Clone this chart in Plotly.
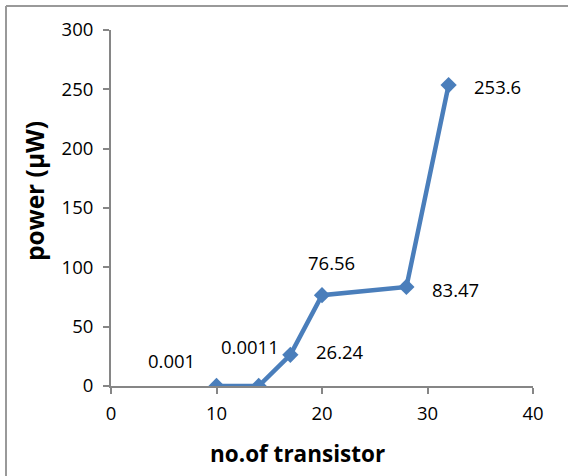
import plotly.graph_objects as go

# Power consumption versus transistor count
transistors = [10, 14, 17, 20, 28, 32]
power_uw = [0.001, 0.0011, 26.24, 76.56, 83.47, 253.6]
value_labels = ["0.001", "0.0011", "26.24", "76.56", "83.47", "253.6"]
# pixel offsets of each value label from its point
label_dx = [-45, -9, 50, 9, 49, 49]
label_dy = [-26, -40, -3, -33, 3, 1]

x_ticks = [0, 10, 20, 30, 40]
y_ticks = [0, 50, 100, 150, 200, 250, 300]

BLUE = "#4A7EBB"
AXIS = "#868686"
FONT = "Open Sans"

fig = go.Figure()
fig.add_trace(go.Scatter(
    x=transistors, y=power_uw, mode="lines+markers",
    line=dict(color=BLUE, width=4.5),
    marker=dict(symbol="diamond", size=12.5, color=BLUE),
    showlegend=False, hoverinfo="skip",
))

for x, y, t, dx, dy in zip(transistors, power_uw, value_labels, label_dx, label_dy):
    fig.add_annotation(x=x, y=y, text=t, showarrow=True, arrowcolor="rgba(0,0,0,0)",
                       ax=dx, ay=dy, font=dict(family=FONT, size=18.5, color="#000000"))

W, H = 568, 476
L, R, T, B = 111, 35, 30, 90
pw, ph = W - L - R, H - T - B

def px(xp):
    return (xp - L) / pw

def py(yp):
    return (H - B - yp) / ph

# axis titles
fig.add_annotation(xref="paper", yref="paper", x=px(297), y=py(453), text="<b>no.of transistor</b>",
                   xanchor="center", yanchor="middle", showarrow=False,
                   font=dict(family=FONT, size=22.5, color="#000000"))
fig.add_annotation(xref="paper", yref="paper", x=px(34), y=py(191), text="<b>power (μW)</b>",
                   xanchor="center", yanchor="middle", textangle=-90, showarrow=False,
                   font=dict(family=FONT, size=24.5, color="#000000"))

# chart frame edges
fig.add_shape(type="line", xref="paper", yref="paper", x0=px(6), x1=px(6), y0=py(476), y1=py(6),
              line=dict(color="#999999", width=2))
fig.add_shape(type="line", xref="paper", yref="paper", x0=px(6), x1=px(568), y0=py(6), y1=py(6),
              line=dict(color="#999999", width=2))

axis_common = dict(showgrid=False, zeroline=False, showline=True, linecolor=AXIS, linewidth=2,
                   ticks="outside", ticklen=6, tickwidth=2, tickcolor=AXIS,
                   tickfont=dict(family=FONT, size=18.5, color="#000000"))
fig.update_xaxes(range=[0, 40], tickvals=x_ticks, ticktext=[str(v) for v in x_ticks],
                 ticklabelstandoff=4, **axis_common)
fig.update_yaxes(range=[0, 300], tickvals=y_ticks, ticktext=[str(v) for v in y_ticks],
                 ticklabelstandoff=6, **axis_common)

fig.update_layout(width=W, height=H, margin=dict(l=L, r=R, t=T, b=B),
                  plot_bgcolor="white", paper_bgcolor="white")
fig.write_html("out.html")
